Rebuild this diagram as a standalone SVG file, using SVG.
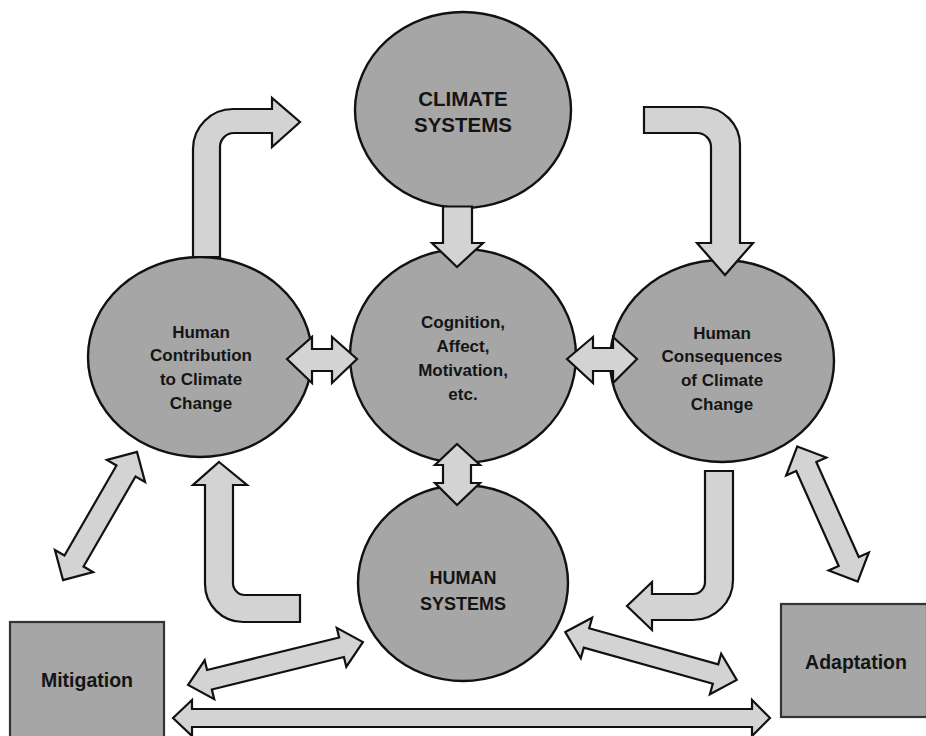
<svg xmlns="http://www.w3.org/2000/svg" width="926" height="736" viewBox="0 0 926 736">
<style>
.node{fill:#a6a6a6;stroke:#111;stroke-width:2.4}
.box{fill:#a6a6a6;stroke:#333;stroke-width:2.2}
.arr{fill:#d3d3d3;stroke:#111;stroke-width:2.2;stroke-linejoin:miter}
text{font-family:"Liberation Sans",Arial,sans-serif;font-weight:bold;fill:#141414;text-anchor:middle}
.big{font-size:20.5px}
.mid{font-size:17px}
.hs{font-size:18px}
.lbl{font-size:19.5px}
</style>
<defs>
<path id="dbl" d="M-74,0 L-52,-22 L-52,-11 L52,-11 L52,-22 L74,0 L52,22 L52,11 L-52,11 L-52,22 Z"/>
</defs>
<rect width="926" height="736" fill="#fff"/>
<g id="climate"><ellipse class="node" cx="463" cy="110" rx="108" ry="98"/><text class="big" x="463" y="106">CLIMATE</text><text class="big" x="463" y="132">SYSTEMS</text></g>
<g id="cognition"><ellipse class="node" cx="463" cy="356" rx="113" ry="107"/><text class="mid" x="463" y="328">Cognition,</text><text class="mid" x="463" y="352">Affect,</text><text class="mid" x="463" y="376">Motivation,</text><text class="mid" x="463" y="400">etc.</text></g>
<g id="contribution"><ellipse class="node" cx="200" cy="357" rx="112" ry="100"/><text class="mid" x="201" y="338">Human</text><text class="mid" x="201" y="361">Contribution</text><text class="mid" x="201" y="385">to Climate</text><text class="mid" x="201" y="409">Change</text></g>
<g id="consequences"><ellipse class="node" cx="722" cy="361" rx="112" ry="101"/><text class="mid" x="722" y="339">Human</text><text class="mid" x="722" y="362">Consequences</text><text class="mid" x="722" y="386">of Climate</text><text class="mid" x="722" y="410">Change</text></g>
<g id="humansystems"><ellipse class="node" cx="463" cy="583" rx="105" ry="98"/><text class="hs" x="463" y="584">HUMAN</text><text class="hs" x="463" y="610">SYSTEMS</text></g>
<g id="mitigation"><rect class="box" x="10" y="622" width="154" height="120"/><text class="lbl" x="87" y="687">Mitigation</text></g>
<g id="adaptation"><rect class="box" x="781" y="604" width="146" height="113"/><text class="lbl" x="856" y="669">Adaptation</text></g>
<g id="connectors">
<path class="arr" d="M193,257 L193,149 A40,40 0 0 1 233,109 L272,109 L272,98 L300,122 L272,147 L272,133 L234,133 A14,14 0 0 0 220,147 L220,257 Z"/>
<path class="arr" d="M644,107 L702,107 A38,38 0 0 1 740,145 L740,243 L753,243 L725,275 L697,243 L711,243 L711,147 A14,14 0 0 0 697,133 L644,133 Z"/>
<path class="arr" d="M443,206.5 L472,206.5 L472,243 L483,243 L457,267 L432,243 L443,243 Z"/>
<path class="arr" d="M287,359 L312,337 L312,349 L332,349 L332,337 L357,359 L332,383 L332,371 L312,371 L312,383 Z"/>
<path class="arr" d="M567,359 L593,337 L593,348 L613,348 L613,337 L637,359 L613,383 L613,371 L593,371 L593,383 Z"/>
<path class="arr" d="M457,444 L480,465 L471,465 L471,483 L480,483 L457,505 L435,483 L443,483 L443,465 L435,465 Z"/>
<use class="arr" href="#dbl" transform="translate(100,516) rotate(-60)"/>
<use class="arr" href="#dbl" transform="translate(827.5,514) rotate(65.9)"/>
<path class="arr" d="M219,462 L247,485 L233,485 L233,583 A12,12 0 0 0 245,595 L300,595 L300,622 L243,622 A38,38 0 0 1 205,584 L205,485 L193,485 Z"/>
<path class="arr" d="M705,471 L733,471 L733,580 A40,40 0 0 1 693,620 L652,620 L652,630 L627,606 L652,582 L652,594 L693,594 A12,12 0 0 0 705,582 Z"/>
<path class="arr" d="M-90,0 L-68,-20 L-68,-10 L68,-10 L68,-20 L90,0 L68,20 L68,10 L-68,10 L-68,20 Z" transform="translate(275.5,663.5) rotate(-13.8)"/>
<path class="arr" d="M-89,0 L-67,-21 L-67,-10 L67,-10 L67,-21 L89,0 L67,21 L67,10 L-67,10 L-67,21 Z" transform="translate(651,656) rotate(15.6)"/>
<path class="arr" d="M173,718 L192,700 L192,709 L752,709 L752,700 L770,718 L752,736 L752,727 L192,727 L192,736 Z"/>
</g>
</svg>
